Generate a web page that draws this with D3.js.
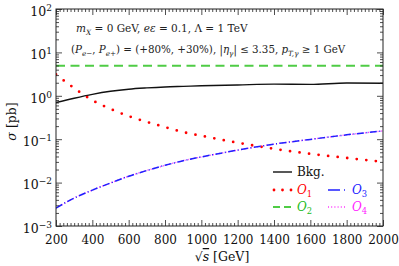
<!DOCTYPE html>
<html>
<head>
<meta charset="utf-8">
<script src="https://cdn.jsdelivr.net/npm/d3@7"></script>
<style>
  body { margin: 0; background: #fff; }
</style>
</head>
<body>
<div id="chart"></div>
<script>
// Data
const sqrtS = [200, 300, 400, 500, 600, 700, 800, 900, 1000, 1200, 1400, 1600, 1800, 2000];
const bkg   = [0.70, 0.88, 1.08, 1.27, 1.42, 1.52, 1.60, 1.65, 1.70, 1.78, 1.86, 1.83, 1.97, 1.95];
const o1    = [3.1, 1.5, 0.79, 0.50, 0.34, 0.25, 0.19, 0.146, 0.12, 0.083, 0.060, 0.046, 0.037, 0.030];
const o2    = [4.9, 4.9, 4.9, 4.9, 4.9, 4.9, 4.9, 4.9, 4.9, 4.9, 4.9, 4.9, 4.9, 4.9];
const o3    = [0.0026, 0.0044, 0.0067, 0.0098, 0.014, 0.019, 0.025, 0.032, 0.039, 0.056, 0.077, 0.099, 0.126, 0.155];
const o4    = [0.0026, 0.0044, 0.0067, 0.0098, 0.014, 0.019, 0.025, 0.032, 0.039, 0.056, 0.077, 0.099, 0.126, 0.155];
const xTicks = [200, 400, 600, 800, 1000, 1200, 1400, 1600, 1800, 2000];
const yTicks = [-3, -2, -1, 0, 1, 2];

const width = 399;
const height = 266;
const margin = {top: 9, right: 16, bottom: 40, left: 56};
const serif = "DejaVu Serif";

const svg = d3.select("#chart").append("svg")
    .attr("width", width)
    .attr("height", height)
    .style("font-family", serif);

const x = d3.scaleLinear().domain([200, 2000]).range([margin.left, width - margin.right]);
const y = d3.scaleLog().domain([1e-3, 1e2]).range([height - margin.bottom, margin.top]);

// minor tick values
const xMinor = d3.range(200, 2001, 20).filter(v => v % 200 !== 0);
const yMinor = [];
yTicks.slice(0, -1).forEach(e => {
    for (let k = 2; k <= 9; k++) yMinor.push(k * Math.pow(10, e));
});

const x0 = margin.left, x1 = width - margin.right;
const y0 = height - margin.bottom, y1 = margin.top;

// Lines
const line = d3.line()
    .x(d => x(d[0]))
    .y(d => y(d[1]))
    .curve(d3.curveMonotoneX);

const series = {
    bkg: {vals: bkg, color: "#111", width: 1.4, dash: null, cap: "butt"},
    o2: {vals: o2, color: "#4fcc45", width: 2, dash: "9,5.5", cap: "butt"},
    o1: {vals: o1, color: "#ff0000", width: 2.8, dash: "0,9.6", cap: "round"},
    o4: {vals: o4, color: "#ff33ff", width: 1.4, dash: "1,2.2", cap: "butt"},
    o3: {vals: o3, color: "#2020ff", width: 1.5, dash: "7,2.5,1,2.5", cap: "butt"}
};

svg.append("clipPath").attr("id", "clip")
    .append("rect").attr("x", x0).attr("y", y1).attr("width", x1 - x0).attr("height", y0 - y1);

const g = svg.append("g").attr("clip-path", "url(#clip)");
["bkg", "o2", "o1", "o4", "o3"].forEach(k => {
    const s = series[k];
    g.append("path")
        .datum(sqrtS.map((v, i) => [v, s.vals[i]]))
        .attr("fill", "none")
        .attr("stroke", s.color)
        .attr("stroke-width", s.width)
        .attr("stroke-dasharray", s.dash)
        .attr("stroke-linecap", s.cap)
        .attr("d", line);
});

// Axes with inward ticks on all four sides
function styleAxis(sel) {
    sel.attr("font-family", null);
    sel.select(".domain").remove();
    sel.selectAll("line").attr("stroke", "#222").attr("stroke-width", 0.8);
}

svg.append("g").attr("transform", `translate(0,${y0})`)
    .call(d3.axisBottom(x).tickValues(xTicks).tickSize(-6).tickPadding(9).tickFormat(d3.format("d")))
    .call(styleAxis)
    .selectAll("text").style("font-size", "12px").attr("fill", "#111");
svg.append("g").attr("transform", `translate(0,${y0})`)
    .call(d3.axisBottom(x).tickValues(xMinor).tickSize(-3).tickFormat(""))
    .call(styleAxis);
svg.append("g").attr("transform", `translate(0,${y1})`)
    .call(d3.axisTop(x).tickValues(xTicks).tickSize(-6).tickFormat(""))
    .call(styleAxis);
svg.append("g").attr("transform", `translate(0,${y1})`)
    .call(d3.axisTop(x).tickValues(xMinor).tickSize(-3).tickFormat(""))
    .call(styleAxis);

const yl = svg.append("g").attr("transform", `translate(${x0},0)`)
    .call(d3.axisLeft(y).tickValues(yTicks.map(e => Math.pow(10, e))).tickSize(-6).tickPadding(5).tickFormat(""))
    .call(styleAxis);
yl.selectAll(".tick").each(function(d) {
    const e = Math.round(Math.log10(d));
    const t = d3.select(this).select("text")
        .style("font-size", "12.5px").attr("fill", "#111").attr("dy", "0.5em").attr("x", -4);
    t.append("tspan").text("10");
    t.append("tspan").attr("dy", "-0.55em").style("font-size", "9px").text(e < 0 ? "\u2212" + Math.abs(e) : e);
});
svg.append("g").attr("transform", `translate(${x0},0)`)
    .call(d3.axisLeft(y).tickValues(yMinor).tickSize(-3).tickFormat(""))
    .call(styleAxis);
svg.append("g").attr("transform", `translate(${x1},0)`)
    .call(d3.axisRight(y).tickValues(yTicks.map(e => Math.pow(10, e))).tickSize(-6).tickFormat(""))
    .call(styleAxis);
svg.append("g").attr("transform", `translate(${x1},0)`)
    .call(d3.axisRight(y).tickValues(yMinor).tickSize(-3).tickFormat(""))
    .call(styleAxis);

// frame
svg.append("rect")
    .attr("x", x0).attr("y", y1).attr("width", x1 - x0).attr("height", y0 - y1)
    .attr("fill", "none").attr("stroke", "#222").attr("stroke-width", 1);

// helper for text with sub/superscripts: parts = [[text, style]]
function richText(parent, xPos, yPos, size, parts, color) {
    const t = parent.append("text").attr("x", xPos).attr("y", yPos)
        .style("font-size", size + "px").attr("fill", color || "#222");
    parts.forEach(p => {
        const [str, kind] = p;
        const ts = t.append("tspan").text(str);
        if (kind === "i") ts.style("font-style", "italic");
        if (kind === "sub" || kind === "subi") {
            ts.style("font-size", (size * 0.7) + "px").attr("dy", size * 0.25);
            if (kind === "subi") ts.style("font-style", "italic");
        }
        if (kind === "after") ts.attr("dy", -size * 0.25);
    });
    return t;
}

// annotations
richText(svg, 76, 32, 10.5, [
    ["m", "i"], ["X", "subi"], [" = 0 GeV, ", "after"], ["e\u03b5", "i"], [" = 0.1, \u039b = 1 TeV"]
]);
richText(svg, 71, 53, 10.3, [
    ["(", null], ["P", "i"], ["e\u2212", "subi"], [", ", "after"], ["P", "i"], ["e+", "subi"],
    [") = (+80%, +30%), |", "after"], ["\u03b7", "i"], ["\u03b3", "subi"],
    ["| \u2264 3.35,  ", "after"], ["p", "i"], ["T,\u03b3", "subi"], [" \u2265 1 GeV", "after"]
]);

// axis titles
const xt = svg.append("text").attr("x", 222).attr("y", 261).attr("text-anchor", "middle")
    .style("font-size", "12.5px").attr("fill", "#111");
xt.append("tspan").text("\u221A");
xt.append("tspan").style("font-style", "italic").attr("text-decoration", "overline").text("s");
xt.append("tspan").text(" [GeV]");

const yt = svg.append("text")
    .attr("transform", `translate(16,${(y0 + y1) / 2 + 4}) rotate(-90)`)
    .attr("text-anchor", "middle").style("font-size", "12.5px").attr("fill", "#111");
yt.append("tspan").style("font-style", "italic").text("\u03c3");
yt.append("tspan").text(" [pb]");

// legend
const legend = [
    {k: "bkg", label: [["Bkg.", null]], lx: 273, ly: 172, color: "#111"},
    {k: "o1", label: [["O", "i"], ["1", "sub"]], lx: 273, ly: 190, color: "#ff0000"},
    {k: "o3", label: [["O", "i"], ["3", "sub"]], lx: 328, ly: 190, color: "#2020ff"},
    {k: "o2", label: [["O", "i"], ["2", "sub"]], lx: 273, ly: 207, color: "#22bb22"},
    {k: "o4", label: [["O", "i"], ["4", "sub"]], lx: 328, ly: 207, color: "#ff22ff"}
];
const legendDash = {o1: "0,8.5", o2: "7,4", o3: "12,4,1,4"};
legend.forEach(l => {
    const s = series[l.k];
    svg.append("line")
        .attr("x1", l.lx + (s.cap === "round" ? 1 : 0)).attr("x2", l.lx + 19)
        .attr("y1", l.ly).attr("y2", l.ly)
        .attr("stroke", s.color).attr("stroke-width", s.width)
        .attr("stroke-dasharray", legendDash[l.k] || s.dash)
        .attr("stroke-linecap", s.cap);
    richText(svg, l.lx + 24, l.ly + 4, 12, l.label, l.color);
});
</script>
</body>
</html>
